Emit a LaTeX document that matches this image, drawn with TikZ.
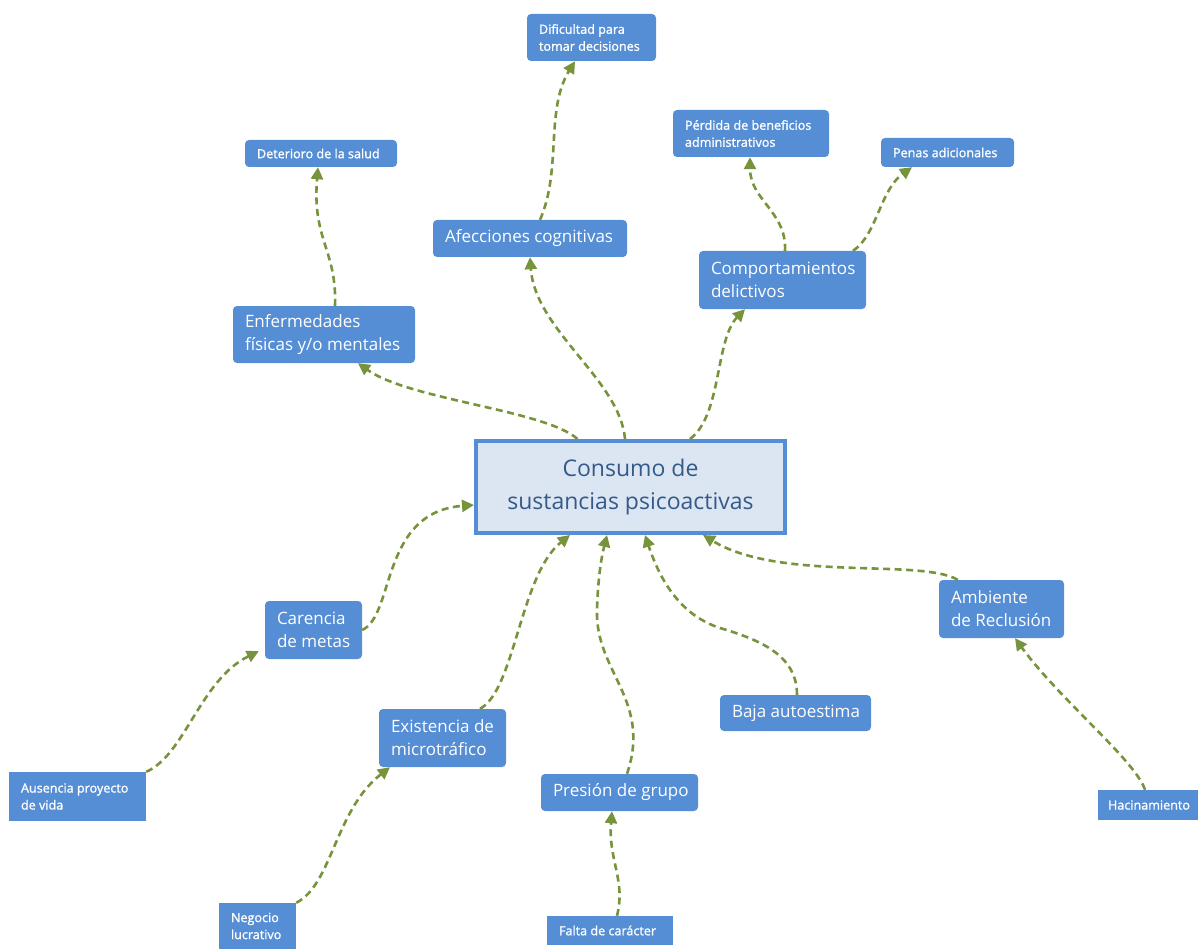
\documentclass[tikz,border=0pt]{standalone}
\usepackage{fontspec}
\setmainfont{Open Sans}
\IfFontExistsTF{Open Sans SemiBold}{\newfontfamily\smallfam{Open Sans SemiBold}}{\newfontfamily\smallfam[FakeBold=1.2]{Open Sans}}
\usetikzlibrary{arrows.meta}
\definecolor{boxblue}{HTML}{558ED5}
\definecolor{cenfill}{HTML}{DCE6F2}
\definecolor{centext}{HTML}{345A8A}
\definecolor{arrgreen}{HTML}{77933C}
\newcommand{\mbx}[1]{\mbox{#1}}
\tikzset{
  box/.style={fill=boxblue, text=white, rounded corners=4pt, inner xsep=12pt, inner ysep=2pt, align=flush left},
  sqbox/.style={box, rounded corners=0pt},
  smalltxt/.style={font=\smallfam\fontsize{12.6}{17}\selectfont},
  midtxt/.style={font=\fontsize{17}{23}\selectfont},
  centerbox/.style={fill=cenfill, draw=boxblue, line width=4pt, text=centext, align=center, font=\fontsize{23}{33}\selectfont},
  conn/.style={draw=arrgreen, line width=2.6pt, dash pattern=on 7pt off 4.5pt, -{Triangle[length=12pt,width=12pt]}}
}
\begin{document}
\begin{tikzpicture}[x=1pt,y=-1pt]
\useasboundingbox (0,0) rectangle (1198,949);
% central
\node[centerbox, minimum width=309pt, minimum height=92pt] (cen) at (630.5,487) {Consumo de\\sustancias psicoactivas};
% top nodes
\node[box, smalltxt, text width=105pt, minimum height=47pt] (dif) at (591.5,37.5) {\mbx{Dificultad para}\\\mbx{tomar decisiones}};
\node[box, smalltxt, text width=128pt, minimum height=27pt] (det) at (321,153.5) {\mbx{Deterioro de la salud}};
\node[box, smalltxt, text width=132pt, minimum height=47pt] (per) at (751,133.5) {\mbx{Pérdida de beneficios}\\\mbx{administrativos}};
\node[box, smalltxt, text width=109pt, minimum height=29pt] (pen) at (947.5,152.5) {\mbx{Penas adicionales}};
\node[box, midtxt, text width=170pt, minimum height=37pt] (afe) at (530,238.5) {\mbx{Afecciones cognitivas}};
\node[box, midtxt, text width=143pt, minimum height=58pt] (com) at (782.5,280) {\mbx{Comportamientos}\\\mbx{delictivos}};
\node[box, midtxt, text width=158pt, minimum height=57pt] (enf) at (324,334.5) {\mbx{Enfermedades}\\\mbx{físicas y/o mentales}};
% lower nodes
\node[box, midtxt, text width=73pt, minimum height=58pt] (car) at (313.5,630) {\mbx{Carencia}\\\mbx{de metas}};
\node[box, midtxt, text width=101pt, minimum height=58pt] (amb) at (1001.5,609) {\mbx{Ambiente}\\\mbx{de Reclusión}};
\node[box, midtxt, text width=103pt, minimum height=58pt] (exi) at (442.5,738) {\mbx{Existencia de}\\\mbx{microtráfico}};
\node[box, midtxt, text width=127pt, minimum height=36pt] (baj) at (795.5,713) {\mbx{Baja autoestima}};
\node[box, midtxt, text width=133pt, minimum height=37pt] (pre) at (619.5,792.5) {\mbx{Presión de grupo}};
\node[sqbox, smalltxt, text width=113pt, minimum height=49pt] (aus) at (77.5,796.5) {\mbx{Ausencia proyecto}\\\mbx{de vida}};
\node[sqbox, smalltxt, inner xsep=10pt, text width=80pt, minimum height=30pt] (hac) at (1148,805) {\mbx{Hacinamiento}};
\node[sqbox, smalltxt, text width=53pt, minimum height=46pt] (neg) at (257.5,926) {\mbx{Negocio}\\\mbx{lucrativo}};
\node[sqbox, smalltxt, text width=102pt, minimum height=29pt] (fal) at (610,930.5) {\mbx{Falta de carácter}};
% connectors
\draw[conn] ([xshift=-53pt]cen.north) .. controls (545,410) and (410,400) .. ([xshift=34pt]enf.south);
\draw[conn] ([xshift=11pt]enf.north) .. controls (337,250) and (312,240) .. ([xshift=-3pt]det.south);
\draw[conn] ([xshift=-5.5pt]cen.north) .. controls (620,380) and (535,330) .. (afe.south);
\draw[conn] ([xshift=10pt]afe.north) .. controls (562,170) and (545,110) .. ([xshift=-16.5pt]dif.south);
\draw[conn] ([xshift=59.5pt]cen.north) .. controls (722,415) and (715,340) .. ([xshift=-37.5pt]com.south);
\draw[conn] ([xshift=2.5pt]com.north) .. controls (787,212) and (750,200) .. ([xshift=-1pt]per.south);
\draw[conn] ([xshift=70.5pt]com.north) .. controls (877,235) and (880,190) .. ([xshift=-35.5pt]pen.south);
\draw[conn] (car.east) .. controls (395,615) and (380,512) .. ([yshift=-18pt]cen.west);
\draw[conn] (aus.north east) .. controls (185,755) and (200,680) .. ([xshift=-6pt,yshift=8pt]car.south west);
\draw[conn] ([xshift=37.5pt]exi.north) .. controls (515,690) and (520,575) .. ([xshift=-60.5pt]cen.south);
\draw[conn] (neg.north east) .. controls (332,885) and (335,810) .. ([xshift=-52.5pt]exi.south);
\draw[conn] ([xshift=7.5pt]pre.north) .. controls (652,700) and (595,672) .. (597,610) .. controls (598,575) and (602,555) .. ([xshift=-23.5pt]cen.south);
\draw[conn] ([xshift=7pt]fal.north) .. controls (626,880) and (608,860) .. ([xshift=-7.5pt]pre.south);
\draw[conn] ([xshift=1.5pt]baj.north) .. controls (797,655) and (760,640) .. (720,628) .. controls (680,615) and (660,580) .. ([xshift=14.5pt]cen.south);
\draw[conn] ([xshift=19pt]amb.north west) .. controls (920,558) and (780,582) .. ([xshift=72.5pt]cen.south);
\draw[conn] ([xshift=-3pt]hac.north) .. controls (1135,760) and (1060,700) .. ([xshift=13.5pt]amb.south);
\end{tikzpicture}
\end{document}
